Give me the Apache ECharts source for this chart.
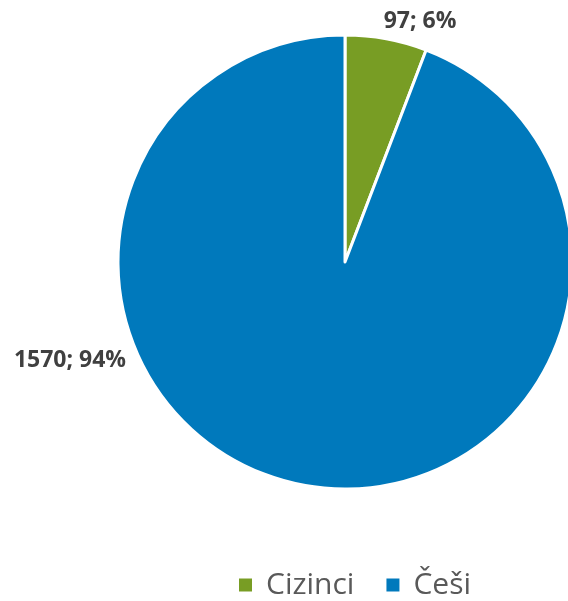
<!DOCTYPE html>
<html>
<head>
<meta charset="utf-8">
<script src="https://cdn.jsdelivr.net/npm/echarts@6/dist/echarts.min.js"></script>
<style>
html,body{margin:0;padding:0;background:#fff;}
#chart{width:568px;height:601px;}
</style>
</head>
<body>
<div id="chart"></div>
<script>
const categories = ['Cizinci', 'Češi'];
const values = [97, 1570];
const colors = ['#789d24', '#0079bc'];

const total = values.reduce((a, b) => a + b, 0);
const labelPos = [[420, 21], [70, 360]];

const chart = echarts.init(document.getElementById('chart'));
chart.setOption({
  animation: false,
  legend: {
    top: 563,
    left: 232,
    itemWidth: 15,
    itemHeight: 15,
    itemGap: 30,
    icon: 'rect',
    textStyle: { fontFamily: 'Open Sans', fontSize: 30, lineHeight: 34, color: '#595959', padding: [0, 0, 0, 8] },
    data: categories
  },
  series: [{
    type: 'pie',
    center: [345, 262],
    radius: 227,
    startAngle: 90,
    clockwise: true,
    itemStyle: { borderColor: '#ffffff', borderWidth: 3 },
    label: {
      show: true,
      position: 'outside',
      fontFamily: 'Open Sans',
      fontWeight: 'bold',
      fontSize: 23,
      color: '#404040',
      formatter: p => p.value + '; ' + Math.round(p.value / total * 100) + '%'
    },
    labelLine: { show: false },
    labelLayout: p => ({ x: labelPos[p.dataIndex][0], y: labelPos[p.dataIndex][1], align: 'center', verticalAlign: 'middle' }),
    data: categories.map((c, i) => ({ name: c, value: values[i], itemStyle: { color: colors[i] } }))
  }]
});
</script>
</body>
</html>
